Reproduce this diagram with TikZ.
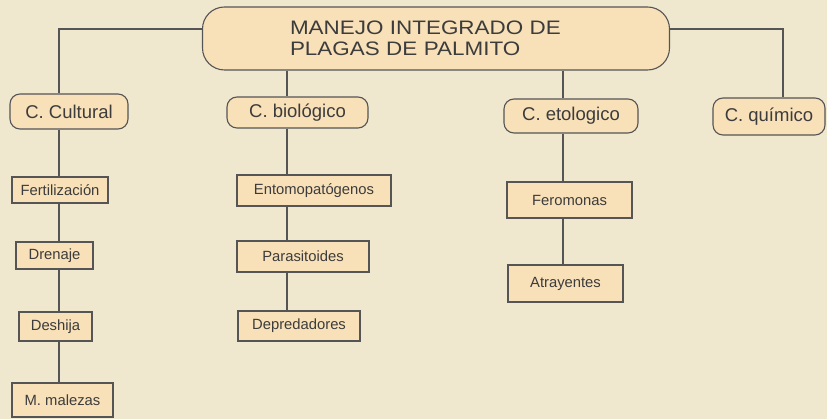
\documentclass[tikz,border=0pt]{standalone}
\usepackage{fontspec}
\setmainfont{Liberation Sans}
\newfontfamily\titlefont{Liberation Sans}[FakeStretch=1.15]
\definecolor{papel}{RGB}{239,231,206}
\definecolor{caja}{RGB}{248,224,184}
\definecolor{trazo}{RGB}{85,85,85}
\definecolor{letra}{RGB}{60,60,60}

\begin{document}
\begin{tikzpicture}[x=1pt,y=-1pt,
  control/.style={draw=trazo,fill=caja,line width=1.1pt,rounded corners=10pt,inner sep=0pt,text=letra,font=\fontsize{18.5}{21}\selectfont},
  practica/.style={draw=trazo,fill=caja,line width=1.1pt,inner sep=0pt,text=letra,font=\fontsize{14.8}{17}\selectfont},
  enlace/.style={draw=trazo,line width=1.2pt}]
\fill[papel] (0,0) rectangle (827,419);
\useasboundingbox (0,0) rectangle (827,419);
\coordinate (ec) at (59,0);
\coordinate (eb) at (287,0);
\coordinate (ee) at (563,0);
\coordinate (eq) at (783,0);

\node[control,rounded corners=22pt,minimum width=467pt,minimum height=63pt,text width=292pt,align=left,font=\titlefont\fontsize{19.5}{21}\selectfont] (mip) at (436,38.5) {MANEJO INTEGRADO DE\\PLAGAS DE PALMITO};

\node[control,minimum width=118pt,minimum height=35pt] (cult) at (69,111.5) {C. Cultural};
\node[control,minimum width=141pt,minimum height=31pt] (bio) at (297.5,112.5) {C. biológico};
\node[control,minimum width=134pt,minimum height=34pt] (eto) at (571,116) {C. etologico};
\node[control,minimum width=112pt,minimum height=37pt] (qui) at (769,116.5) {C. químico};

\node[practica,minimum width=96pt,minimum height=26pt] (fert) at (60,190) {Fertilización};
\node[practica,minimum width=77pt,minimum height=27pt] (dren) at (54.5,255.5) {Drenaje};
\node[practica,minimum width=73pt,minimum height=29pt] (desh) at (55.5,326.5) {Deshija};
\node[practica,minimum width=101pt,minimum height=34pt] (male) at (62.5,400) {M. malezas};

\node[practica,minimum width=154pt,minimum height=31pt] (ento) at (314,190.5) {Entomopatógenos};
\node[practica,minimum width=132pt,minimum height=31pt] (para) at (303,256.5) {Parasitoides};
\node[practica,minimum width=122pt,minimum height=30pt] (depr) at (299,326) {Depredadores};

\node[practica,minimum width=125pt,minimum height=36pt] (fero) at (569.5,200) {Feromonas};
\node[practica,minimum width=115pt,minimum height=37pt] (atra) at (565.5,283.5) {Atrayentes};

\draw[enlace] ([yshift=9.5pt]mip.west) -| (cult.north -| ec);
\draw[enlace] ([yshift=9.5pt]mip.east) -| (qui.north -| eq);
\draw[enlace] (mip.south -| eb) -- (bio.north -| eb);
\draw[enlace] (mip.south -| ee) -- (eto.north -| ee);
\foreach \a/\b in {cult/fert,fert/dren,dren/desh,desh/male}
  \draw[enlace] (\a.south -| ec) -- (\b.north -| ec);
\foreach \a/\b in {bio/ento,ento/para,para/depr}
  \draw[enlace] (\a.south -| eb) -- (\b.north -| eb);
\foreach \a/\b in {eto/fero,fero/atra}
  \draw[enlace] (\a.south -| ee) -- (\b.north -| ee);
\end{tikzpicture}
\end{document}
